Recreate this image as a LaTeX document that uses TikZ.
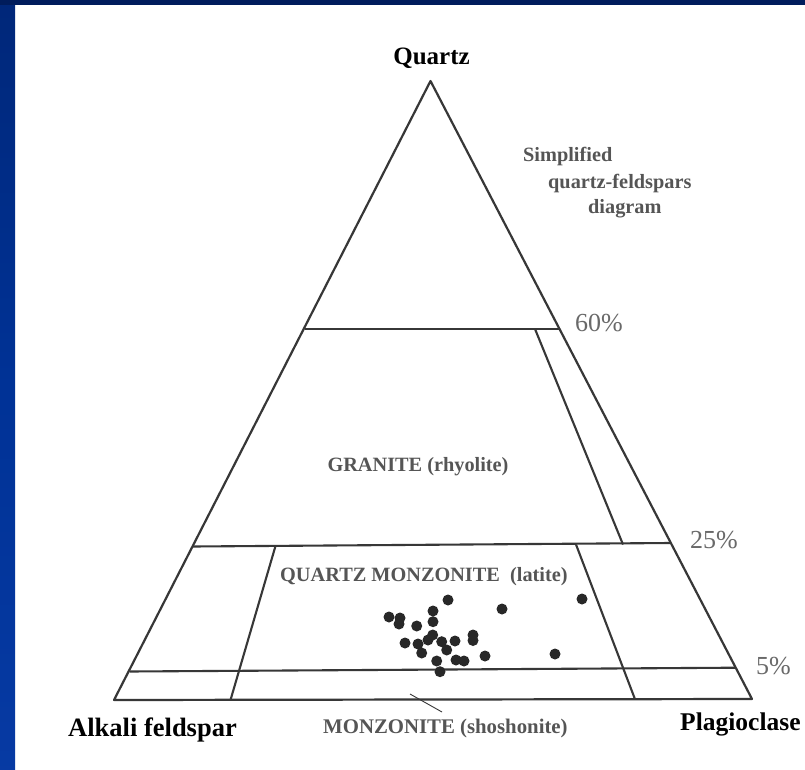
\documentclass[tikz,border=0pt]{standalone}
\usepackage{fontspec}
\setmainfont{Liberation Serif}
\definecolor{navy}{RGB}{0,28,92}
\definecolor{bmid}{RGB}{0,50,150}
\definecolor{bmidb}{RGB}{10,62,170}
\definecolor{bbot}{RGB}{35,128,182}
\definecolor{linec}{RGB}{55,55,55}
\definecolor{labc}{RGB}{85,85,85}
\definecolor{pctc}{RGB}{105,105,105}
\definecolor{dotc}{RGB}{40,40,40}
\pgfdeclareverticalshading{leftbar}{100bp}{color(0bp)=(bbot); color(12bp)=(bmidb); color(50bp)=(bmid); color(100bp)=(navy)}
\tikzset{
  bdr/.style={draw=linec, line width=2.2pt, line join=round},
  sep/.style={draw=linec, line width=2.1pt},
  dot/.style={circle, fill=dotc, inner sep=0pt, minimum size=11pt},
  corner/.style={font=\fontsize{26.5}{28}\selectfont\bfseries, text=black, inner sep=0pt},
  lab/.style={font=\fontsize{20.3}{24}\selectfont\bfseries, text=labc, inner sep=0pt},
  pct/.style={font=\fontsize{26}{28}\selectfont, text=pctc, inner sep=0pt, anchor=base west},
}
\begin{document}
\begin{tikzpicture}[x=1pt,y=-1pt]
\useasboundingbox (0,0) rectangle (805,770);
\fill[white] (0,0) rectangle (805,770);
\shade[shading=leftbar] (0,0) rectangle (15,770);
\fill[navy] (0,0) rectangle (805,5);
% vertices
\coordinate (A) at (430.5,81);
\coordinate (BL) at (114,700);
\coordinate (BR) at (752,699);
% 60% line
\coordinate (s60l) at (305,329);
\coordinate (s60r) at (560,329);
% 25% line
\coordinate (s25l) at (193,546.5);
\coordinate (s25r) at (670.5,543);
% 5% line
\coordinate (s5l) at (129.5,671.5);
\coordinate (s5r) at (735.5,667.7);
% granite right boundary
\coordinate (g1) at (535,329);
\coordinate (g2) at (623,544.5);
% quartz monzonite boundaries
\coordinate (qa) at (275.5,546);
\coordinate (qb) at (230.5,700);
\coordinate (qc) at (576,544.5);
\coordinate (qd) at (635,699.2);
% leader
\coordinate (la) at (410,694);
\coordinate (lb) at (442,712);

\draw[bdr] (A) -- (BR) -- (BL) -- cycle;
\draw[sep] (s60l) -- (s60r);
\draw[sep] (s25l) -- (s25r);
\draw[sep] (s5l) -- (s5r);
\draw[sep] (g1) -- (g2);
\draw[sep] (qa) -- (qb);
\draw[sep] (qc) -- (qd);
\draw[draw=linec, line width=0.9pt] (la) -- (lb);

% dots
\foreach \px/\py [count=\i] in {448/600, 502/609, 582/599, 555/654, 485/656, 473/635, 473/640.5, 455/641, 441.7/641.7, 433/611, 433/621.7, 416.7/626, 389/617, 400/618, 399/624, 405/643, 418/644, 421.7/653, 428/640, 432.7/635, 446.7/650, 436.7/661, 440/671.7, 456/660, 464/661}
  \node[dot] (d\i) at (\px,\py) {};

% texts
\node[corner, anchor=base, font=\fontsize{25}{28}\selectfont\bfseries] (tq) at (431.5,65) {Quartz};
\node[corner, anchor=base west] (ta) at (68,736) {Alkali feldspar};
\node[corner, anchor=base west, font=\fontsize{25.5}{28}\selectfont\bfseries] (tp) at (680,730) {Plagioclase};
\node[lab, anchor=base west] (t1) at (523,162) {Simplified};
\node[lab, anchor=base west] (t2) at (548,189) {quartz-feldspars};
\node[lab, anchor=base west] (t3) at (588,213) {diagram};
\node[lab, anchor=base] (tg) at (418,471) {GRANITE (rhyolite)};
\node[lab, anchor=base west] (tqm) at (280,581) {QUARTZ MONZONITE\ \ (latite)};
\node[lab, anchor=base west, font=\fontsize{20.8}{24}\selectfont\bfseries] (tm) at (323,733) {MONZONITE (shoshonite)};
\node[pct] (p60) at (575,331) {60\%};
\node[pct] (p25) at (690,548) {25\%};
\node[pct] (p5) at (756,674) {5\%};
\end{tikzpicture}
\end{document}
